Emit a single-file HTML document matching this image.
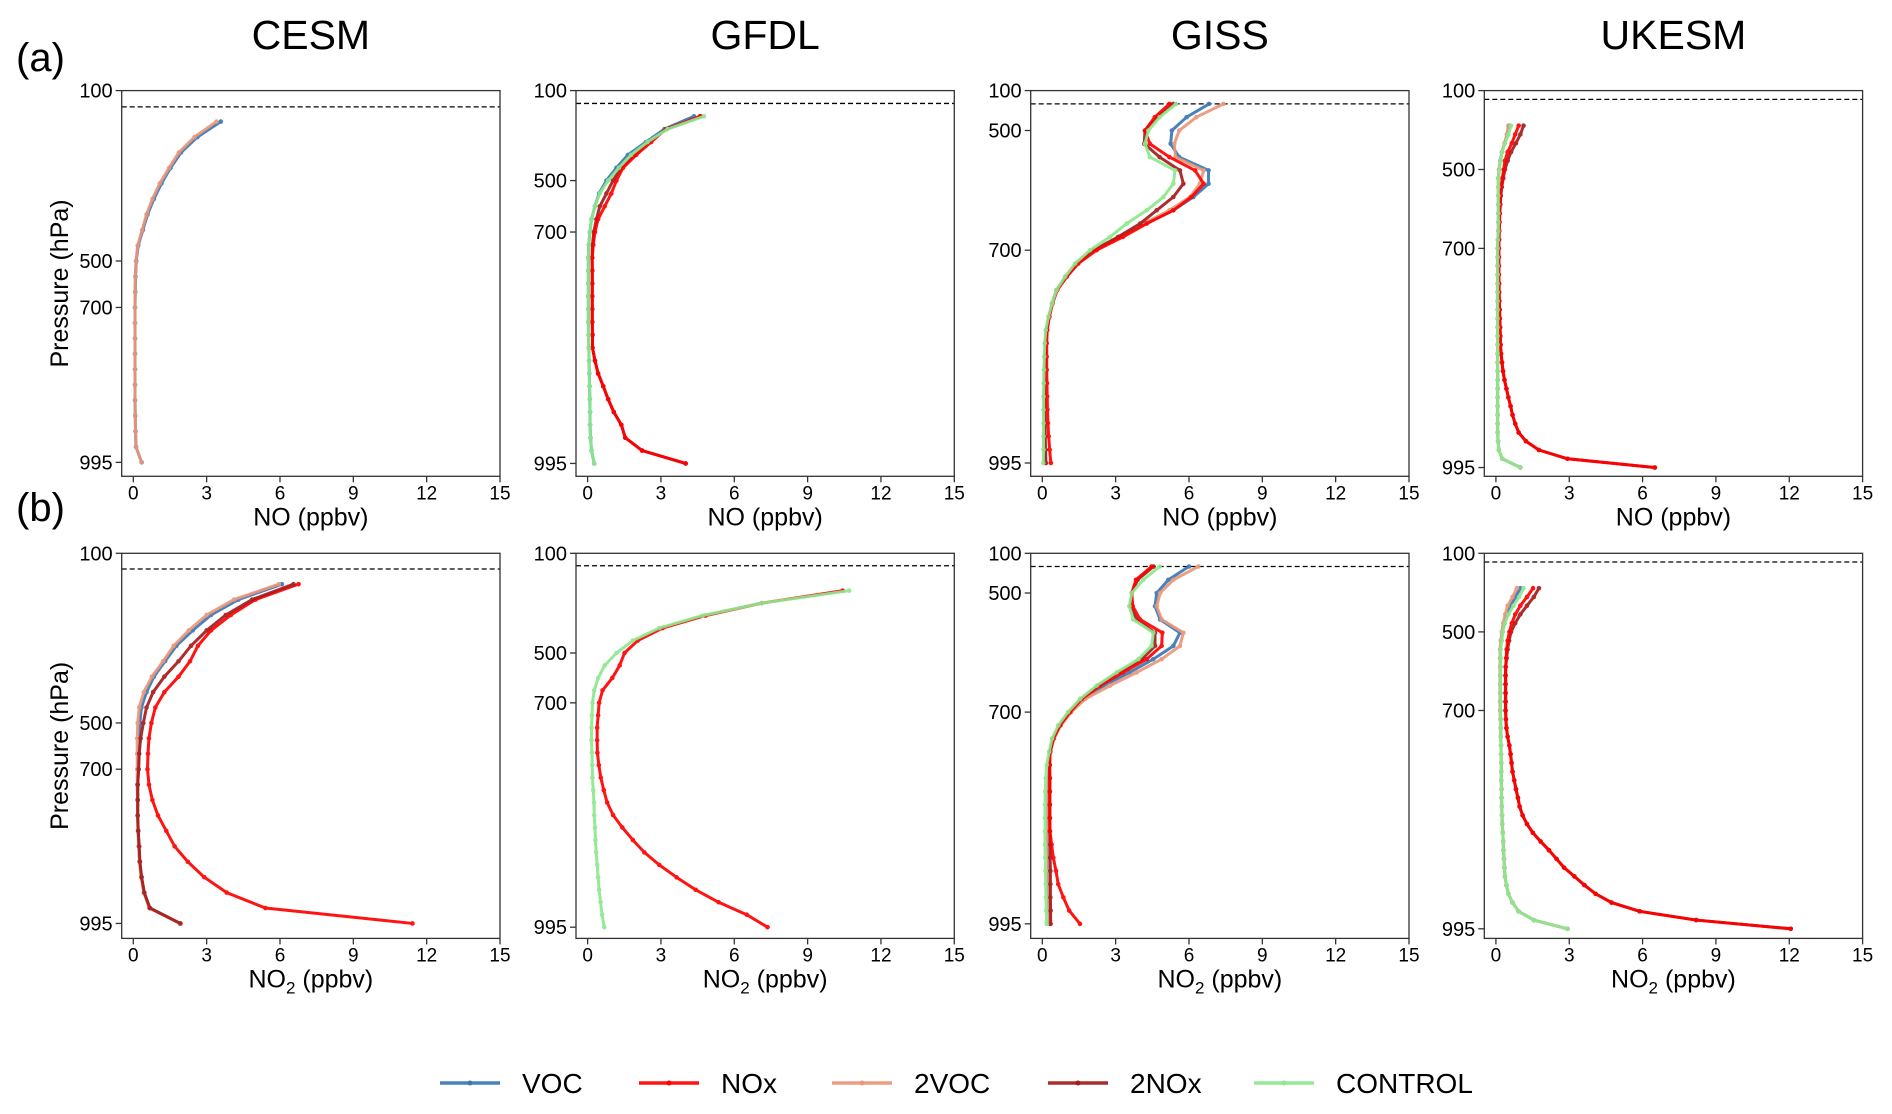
<!DOCTYPE html>
<html><head><meta charset="utf-8"><title>NO and NO2 vertical profiles</title>
<style>
html,body{margin:0;padding:0;background:#fff;}
svg{display:block;font-family:"Liberation Sans",Arial,sans-serif;}
</style></head>
<body>
<svg id="chart" width="1892" height="1114" viewBox="0 0 1892 1114" xmlns="http://www.w3.org/2000/svg"></svg>
<script>
// ---------- data ----------
const xTicks = [0, 3, 6, 9, 12, 15];
const yTickLabels = ["100", "500", "700", "995"];
const seriesNames = ["VOC", "NOx", "2VOC", "2NOx", "CONTROL"];
const seriesColors = ["#3a78b5", "#ff0000", "#e9967a", "#a51c1c", "#8ee88e"];
const models = ["CESM", "GFDL", "GISS", "UKESM"];

// model level indices (top of plotted column = 0)
const cesmLevels = [0,1,2,3,4,5,6,7,8,9,10,11,12,13,14,15,16,17,18,19,20,21,22];
const gfdlLevels = [0,1,2,3,4,5,6,7,8,9,10,11,12,13,14,15,16,17,18,19,20,21,22,23,24,25,26,27];
const gissLevels = [0,1,2,3,4,5,6,7,8,9,10,11,12,13,14,15,16,17,18,19,20,21,22,23,24,25,26,27];
const ukesmLevels = [0,1,2,3,4,5,6,7,8,9,10,11,12,13,14,15,16,17,18,19,20,21,22,23,24,25,26,27,28,29,30,31,32,33,34,35,36,37,38,39];
// level index of the tick labels 100/500/700/995
const cesmTickLevels = [-2, 9, 12, 22];
const gfdlTickLevelsA = [-2, 5, 9, 27];
const gfdlTickLevelsB = [-3, 5, 9, 27];
const gissTickLevels = [-1, 2, 11, 27];
const ukesmTickLevels = [-4, 5, 14, 39];

// ---- CESM ----
const cesmNO_VOC = [3.58,2.62,1.95,1.52,1.15,0.84,0.58,0.39,0.2,0.12,0.09,0.08,0.07,0.07,0.07,0.07,0.07,0.07,0.07,0.08,0.09,0.11,0.34];
const cesmNO_2VOC = [3.4,2.5,1.86,1.46,1.08,0.78,0.54,0.36,0.18,0.11,0.08,0.07,0.07,0.07,0.07,0.07,0.07,0.07,0.07,0.08,0.09,0.11,0.34];
const cesmNO2_VOC = [6.08,4.3,3.18,2.43,1.76,1.3,0.84,0.54,0.33,0.27,0.24,0.22,0.2,0.18,0.18,0.18,0.2,0.23,0.26,0.33,0.44,0.66,1.9];
const cesmNO2_NOx = [6.76,5.0,3.99,3.18,2.64,2.32,1.85,1.27,0.9,0.74,0.64,0.6,0.58,0.64,0.78,1.01,1.35,1.69,2.23,2.9,3.82,5.4,11.42];
const cesmNO2_2VOC = [5.95,4.12,3.0,2.27,1.65,1.22,0.76,0.43,0.24,0.18,0.16,0.16,0.16,0.16,0.17,0.17,0.19,0.22,0.25,0.32,0.43,0.65,1.9];
const cesmNO2_2NOx = [6.55,4.86,3.78,3.0,2.36,1.85,1.27,0.81,0.54,0.41,0.3,0.24,0.22,0.18,0.18,0.18,0.2,0.24,0.27,0.34,0.45,0.68,1.93];

// ---- GFDL ----
const gfdlNO_VOC = [4.35,3.14,2.39,1.65,1.18,0.77,0.47,0.3,0.16,0.09,0.05,0.03,0.03,0.03,0.03,0.03,0.03,0.04,0.05,0.06,0.07,0.08,0.09,0.1,0.1,0.12,0.16,0.27];
const gfdlNO_NOx = [4.62,3.2,2.6,1.99,1.45,1.18,0.97,0.7,0.43,0.3,0.23,0.19,0.19,0.19,0.19,0.19,0.19,0.2,0.2,0.3,0.43,0.64,0.84,1.07,1.38,1.54,2.23,4.01];
const gfdlNO_2NOx = [4.6,3.2,2.5,1.9,1.35,1.04,0.77,0.5,0.36,0.25,0.2,0.18,0.19,0.19,0.19,0.19,0.19,0.2,0.2,0.3,0.43,0.64,0.84,1.07,1.38,1.54,2.23,4.01];
const gfdlNO_CONTROL = [4.76,3.27,2.45,1.78,1.28,0.84,0.5,0.3,0.16,0.09,0.05,0.03,0.03,0.03,0.03,0.03,0.03,0.04,0.05,0.06,0.07,0.08,0.09,0.1,0.1,0.12,0.16,0.27];
const gfdlNO2_NOx = [10.43,7.12,4.82,3.07,2.05,1.51,1.31,1.01,0.61,0.47,0.43,0.39,0.39,0.4,0.46,0.54,0.66,0.8,1.04,1.42,1.85,2.32,2.93,3.64,4.42,5.36,6.51,7.36];
const gfdlNO2_CONTROL = [10.7,7.12,4.69,2.93,1.85,1.18,0.7,0.43,0.27,0.2,0.18,0.16,0.16,0.18,0.19,0.2,0.23,0.26,0.27,0.3,0.32,0.35,0.39,0.43,0.47,0.53,0.59,0.68];

// ---- GISS ----
const gissNO_VOC = [6.82,5.9,5.3,5.25,5.6,6.8,6.8,6.18,5.36,4.2,3.15,2.1,1.4,0.95,0.58,0.4,0.27,0.17,0.12,0.1,0.08,0.07,0.07,0.07,0.07,0.08,0.08,0.1];
const gissNO_NOx = [5.2,4.6,4.2,4.4,5.2,6.25,6.6,6.1,5.36,4.27,3.3,2.22,1.47,1.0,0.61,0.42,0.29,0.2,0.18,0.18,0.18,0.19,0.2,0.21,0.23,0.26,0.3,0.35];
const gissNO_2VOC = [7.41,6.3,5.6,5.4,5.45,6.6,6.45,6.04,5.2,4.15,3.15,2.1,1.4,0.95,0.58,0.4,0.27,0.17,0.12,0.1,0.08,0.07,0.07,0.07,0.07,0.08,0.08,0.1];
const gissNO_2NOx = [5.36,4.7,4.2,4.17,4.8,5.63,5.77,5.36,4.68,4.0,3.1,2.1,1.42,0.98,0.6,0.41,0.28,0.18,0.14,0.12,0.11,0.1,0.1,0.1,0.11,0.12,0.13,0.15];
const gissNO_CONTROL = [5.47,4.8,4.34,4.2,4.4,5.43,5.36,4.95,4.27,3.45,2.77,1.95,1.34,0.93,0.58,0.4,0.25,0.14,0.1,0.08,0.07,0.06,0.05,0.05,0.05,0.05,0.05,0.04];
const gissNO2_VOC = [6.0,5.16,4.68,4.61,4.82,5.63,5.36,4.54,3.57,2.5,1.7,1.15,0.74,0.47,0.33,0.27,0.25,0.24,0.24,0.24,0.24,0.24,0.25,0.25,0.26,0.27,0.28,0.3];
const gissNO2_NOx = [4.47,3.83,3.66,3.7,4.0,4.91,4.88,4.27,3.3,2.36,1.61,1.13,0.72,0.45,0.31,0.3,0.3,0.3,0.3,0.3,0.31,0.38,0.45,0.56,0.65,0.86,1.1,1.54];
const gissNO2_2VOC = [6.38,5.36,4.82,4.68,4.88,5.77,5.63,4.88,3.86,2.77,1.76,1.18,0.76,0.48,0.33,0.27,0.25,0.24,0.24,0.24,0.24,0.24,0.25,0.25,0.26,0.27,0.28,0.3];
const gissNO2_2NOx = [4.55,3.9,3.66,3.62,3.85,4.61,4.61,4.07,3.15,2.28,1.6,1.12,0.72,0.45,0.32,0.3,0.31,0.31,0.31,0.31,0.31,0.32,0.32,0.33,0.33,0.33,0.34,0.34];
const gissNO2_CONTROL = [4.8,4.13,3.66,3.56,3.72,4.54,4.47,3.93,3.04,2.22,1.55,1.05,0.65,0.4,0.28,0.18,0.14,0.12,0.11,0.11,0.11,0.11,0.12,0.13,0.14,0.15,0.16,0.18];

// ---- UKESM ----
const ukesmNO_VOC = [0.55,0.47,0.36,0.25,0.18,0.13,0.1,0.1,0.1,0.1,0.1,0.1,0.1,0.08,0.07,0.07,0.07,0.07,0.07,0.07,0.07,0.07,0.07,0.07,0.07,0.07,0.07,0.07,0.07,0.07,0.07,0.07,0.07,0.07,0.07,0.07,0.09,0.12,0.26,1.0];
const ukesmNO_NOx = [0.93,0.79,0.65,0.48,0.37,0.32,0.26,0.21,0.18,0.17,0.15,0.14,0.13,0.12,0.12,0.12,0.12,0.12,0.13,0.13,0.14,0.15,0.16,0.17,0.18,0.19,0.21,0.25,0.29,0.35,0.43,0.51,0.6,0.68,0.79,0.93,1.23,1.76,2.93,6.5];
const ukesmNO_2VOC = [0.51,0.45,0.35,0.25,0.18,0.13,0.1,0.1,0.1,0.1,0.1,0.1,0.1,0.08,0.07,0.07,0.07,0.07,0.07,0.07,0.07,0.07,0.07,0.07,0.07,0.07,0.07,0.07,0.07,0.07,0.07,0.07,0.07,0.07,0.07,0.07,0.09,0.12,0.26,1.0];
const ukesmNO_2NOx = [1.13,1.0,0.82,0.62,0.48,0.37,0.3,0.24,0.2,0.18,0.16,0.15,0.14,0.13,0.12,0.12,0.12,0.12,0.13,0.13,0.14,0.15,0.16,0.17,0.18,0.19,0.21,0.25,0.29,0.35,0.43,0.51,0.6,0.68,0.79,0.93,1.23,1.76,2.93,6.5];
const ukesmNO_CONTROL = [0.62,0.51,0.37,0.26,0.19,0.14,0.1,0.1,0.1,0.1,0.1,0.1,0.1,0.08,0.07,0.07,0.07,0.07,0.07,0.07,0.07,0.07,0.07,0.07,0.07,0.07,0.07,0.07,0.07,0.07,0.07,0.07,0.07,0.07,0.07,0.07,0.09,0.12,0.26,1.0];
const ukesmNO2_VOC = [1.0,0.8,0.6,0.45,0.34,0.27,0.22,0.18,0.18,0.18,0.18,0.18,0.18,0.18,0.18,0.19,0.2,0.2,0.21,0.21,0.22,0.22,0.22,0.23,0.23,0.24,0.25,0.26,0.28,0.3,0.31,0.33,0.35,0.37,0.43,0.51,0.68,0.93,1.55,2.93];
const ukesmNO2_NOx = [1.52,1.27,1.0,0.79,0.65,0.55,0.48,0.44,0.42,0.4,0.4,0.4,0.4,0.4,0.4,0.41,0.43,0.48,0.55,0.6,0.64,0.68,0.75,0.82,0.9,0.97,1.09,1.27,1.51,1.83,2.17,2.48,2.79,3.21,3.62,4.08,4.73,5.88,8.19,12.06];
const ukesmNO2_2VOC = [0.86,0.68,0.48,0.38,0.3,0.24,0.2,0.17,0.17,0.17,0.17,0.17,0.17,0.17,0.17,0.18,0.19,0.2,0.21,0.21,0.22,0.22,0.22,0.23,0.23,0.24,0.25,0.26,0.28,0.3,0.31,0.33,0.35,0.37,0.43,0.51,0.68,0.93,1.55,2.93];
const ukesmNO2_2NOx = [1.76,1.55,1.27,1.0,0.79,0.62,0.54,0.48,0.44,0.4,0.39,0.39,0.39,0.39,0.39,0.41,0.43,0.48,0.55,0.6,0.64,0.68,0.75,0.82,0.9,0.97,1.09,1.27,1.51,1.83,2.17,2.48,2.79,3.21,3.62,4.08,4.73,5.88,8.19,12.06];
const ukesmNO2_CONTROL = [1.13,0.95,0.72,0.51,0.37,0.28,0.24,0.19,0.19,0.19,0.19,0.19,0.19,0.19,0.19,0.19,0.2,0.2,0.21,0.21,0.22,0.22,0.22,0.23,0.23,0.24,0.25,0.26,0.28,0.3,0.31,0.33,0.35,0.37,0.43,0.51,0.68,0.93,1.55,2.93];

// ---------- layout ----------
const NS = "http://www.w3.org/2000/svg";
const svg = document.getElementById("chart");
const colLeft = [121.7, 576, 1030.7, 1484.3];
const axW = 378.3;
const rowTop = [90.6, 553.3];
const rowBot = [476.3, 938.4];
const xMin = -0.475, xMax = 15;

function mk(tag, attrs, parent) {
  const e = document.createElementNS(NS, tag);
  for (const k in attrs) e.setAttribute(k, attrs[k]);
  (parent || svg).appendChild(e);
  return e;
}

const panels = [
  [0,0,cesmLevels,cesmTickLevels,-2,22.9,-0.95,[[0,cesmNO_VOC],[2,cesmNO_2VOC]],"NO"],
  [0,1,gfdlLevels,gfdlTickLevelsA,-2,28,-1,[[3,gfdlNO_2NOx],[0,gfdlNO_VOC],[1,gfdlNO_NOx],[4,gfdlNO_CONTROL]],"NO"],
  [0,2,gissLevels,gissTickLevels,-1,28,0,[[0,gissNO_VOC],[2,gissNO_2VOC],[3,gissNO_2NOx],[1,gissNO_NOx],[4,gissNO_CONTROL]],"NO"],
  [0,3,ukesmLevels,ukesmTickLevels,-4,40,-3,[[0,ukesmNO_VOC],[2,ukesmNO_2VOC],[3,ukesmNO_2NOx],[1,ukesmNO_NOx],[4,ukesmNO_CONTROL]],"NO"],
  [1,0,cesmLevels,cesmTickLevels,-2,22.97,-0.98,[[0,cesmNO2_VOC],[2,cesmNO2_2VOC],[1,cesmNO2_NOx],[3,cesmNO2_2NOx]],"NO2"],
  [1,1,gfdlLevels,gfdlTickLevelsB,-3,27.9,-2,[[1,gfdlNO2_NOx],[4,gfdlNO2_CONTROL]],"NO2"],
  [1,2,gissLevels,gissTickLevels,-1,28.1,0,[[0,gissNO2_VOC],[2,gissNO2_2VOC],[3,gissNO2_2NOx],[1,gissNO2_NOx],[4,gissNO2_CONTROL]],"NO2"],
  [1,3,ukesmLevels,ukesmTickLevels,-4,40.1,-3,[[0,ukesmNO2_VOC],[2,ukesmNO2_2VOC],[3,ukesmNO2_2NOx],[1,ukesmNO2_NOx],[4,ukesmNO2_CONTROL]],"NO2"]
];

models.forEach((m, c) => {
  const t = mk("text", {x: colLeft[c] + axW / 2, y: 49, "text-anchor": "middle", "font-size": 41, fill: "#000"});
  
  
  t.textContent = m;
});
const la = mk("text", {x: 16, y: 71, "font-size": 40, fill: "#000"});


la.textContent = "(a)";
const lb = mk("text", {x: 16, y: 521, "font-size": 40, fill: "#000"});


lb.textContent = "(b)";

panels.forEach((p) => {
  const [row, col, levels, tickLv, topIdx, botIdx, dashIdx, series, xlab] = p;
  const L = colLeft[col], R = L + axW, T = rowTop[row], B = rowBot[row];
  const xs = v => L + (v - xMin) / (xMax - xMin) * (R - L);
  const ys = i => T + (i - topIdx) / (botIdx - topIdx) * (B - T);
  const g = mk("g", {});
  
  

  const dl = mk("line", {x1: L, x2: R, y1: ys(dashIdx), y2: ys(dashIdx), stroke: "#000", "stroke-width": 1.3, "stroke-dasharray": "5,3"}, g);
  
  

  series.forEach(([si, vals]) => {
    const pts = vals.map((v, k) => xs(v).toFixed(2) + "," + ys(levels[k]).toFixed(2)).join(" ");
    const sg = mk("g", {opacity: 0.92}, g);
    
    
    const pl = mk("polyline", {points: pts, fill: "none", stroke: seriesColors[si], "stroke-width": 3, "stroke-linejoin": "round"}, sg);
    
    
    vals.forEach((v, k) => {
      const c = mk("circle", {cx: xs(v), cy: ys(levels[k]), r: 2.3, fill: seriesColors[si]}, sg);
      
      
    });
  });

  const fr = mk("rect", {x: L, y: T, width: R - L, height: B - T, fill: "none", stroke: "#333", "stroke-width": 1.3}, g);
  
  

  xTicks.forEach(v => {
    const tl = mk("line", {x1: xs(v), x2: xs(v), y1: B, y2: B + 6, stroke: "#333", "stroke-width": 1.3}, g);
    
    
    const tt = mk("text", {x: xs(v), y: B + 23, "text-anchor": "middle", "font-size": 19, fill: "#000"}, g);
    
    
    tt.textContent = String(v);
  });
  tickLv.forEach((lv, k) => {
    const tl = mk("line", {x1: L - 6, x2: L, y1: ys(lv), y2: ys(lv), stroke: "#333", "stroke-width": 1.3}, g);
    
    
    const tt = mk("text", {x: L - 9, y: ys(lv) + 7, "text-anchor": "end", "font-size": 20, fill: "#000"}, g);
    
    
    tt.textContent = yTickLabels[k];
  });
  const xl = mk("text", {x: (L + R) / 2, y: B + 49, "text-anchor": "middle", "font-size": 25, fill: "#000"}, g);
  
  
  if (xlab === "NO2") {
    xl.appendChild(document.createTextNode("NO"));
    const sub = mk("tspan", {"font-size": 17, dy: 6}, xl);
    sub.textContent = "2";
    const rest = mk("tspan", {dy: -6}, xl);
    rest.textContent = " (ppbv)";
  } else {
    xl.textContent = "NO (ppbv)";
  }
  if (col === 0) {
    const cy = (T + B) / 2;
    const yl = mk("text", {x: 59, y: cy, "text-anchor": "middle", "font-size": 25, fill: "#000", transform: "rotate(-90 59 " + cy + ") translate(0 9)"}, g);
    
    
    yl.textContent = "Pressure (hPa)";
  }
});

const legX = [440, 639, 832, 1048, 1254];
const lg = mk("g", {});


seriesNames.forEach((n, i) => {
  const eg = mk("g", {}, lg);
  
  
  const ln = mk("line", {x1: legX[i], x2: legX[i] + 60, y1: 1083, y2: 1083, stroke: seriesColors[i], "stroke-width": 3.5, opacity: 0.92}, eg);
  
  
  const dt = mk("circle", {cx: legX[i] + 30, cy: 1083, r: 2.5, fill: seriesColors[i]}, eg);
  
  
  const tx = mk("text", {x: legX[i] + 82, y: 1093, "font-size": 28, fill: "#000"}, eg);
  
  
  tx.textContent = n;
});
</script>
</body></html>
